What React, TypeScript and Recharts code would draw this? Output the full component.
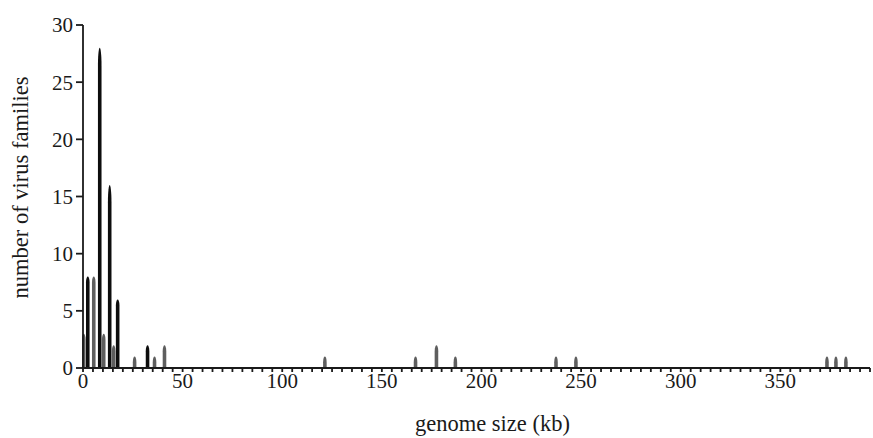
import React from 'react';
import { ComposedChart, Bar, XAxis, YAxis, Label } from 'recharts';

// genome size (kb) where each bar sits
const SIZES = [0.5, 2.5, 5.5, 8.5, 10.5, 13.5, 15.5, 17.5, 26, 32.5, 36, 41, 121.5, 167, 177.5, 187, 237.5, 247.5, 373.5, 378, 383];
// number of virus families per bar
const COUNTS = [3, 8, 8, 28, 3, 16, 2, 6, 1, 2, 1, 2, 1, 1, 2, 1, 1, 1, 1, 1, 1];
// printed tone of each bar: d = solid black, g = grey hatched
const TONES = ['g', 'd', 'g', 'd', 'g', 'd', 'g', 'd', 'g', 'd', 'g', 'g', 'g', 'g', 'g', 'g', 'g', 'g', 'g', 'g', 'g'];

const Y_TICKS = [0, 5, 10, 15, 20, 25, 30];
const X_LABELS = [0, 50, 100, 150, 200, 250, 300, 350];
const X_MINOR_STEP = 5;
const X_MAX = 395;

const FONT = '"Liberation Serif", "Times New Roman", serif';
const INK = '#1a1a1a';

const data = SIZES.map((x, i) => ({ x, n: COUNTS[i], tone: TONES[i] }));
const xTicks = Array.from({ length: X_MAX / X_MINOR_STEP + 1 }, (_, i) => i * X_MINOR_STEP);

// narrow bar with a rounded, slightly pointed top like the printed histogram
function Spike(props: any) {
  const { x, y, width, height, payload } = props;
  if (!height || height <= 0) return null;
  const w = width;
  const cap = Math.min(height * 0.5, height > 100 ? 18 : 6);
  const bottom = y + height;
  const cx = x + w / 2;
  const d = `M${x},${bottom} L${x},${y + cap} C${x},${y + cap * 0.3} ${cx - w * 0.2},${y} ${cx},${y} C${cx + w * 0.2},${y} ${x + w},${y + cap * 0.3} ${x + w},${y + cap} L${x + w},${bottom} Z`;
  return <path d={d} fill={payload.tone === 'd' ? '#0d0d0d' : '#5e5e5e'} />;
}

export default function App() {
  return (
    <div style={{ position: 'absolute', left: 0, top: 0, background: '#fff' }}>
      <ComposedChart width={873} height={438} data={data} margin={{ top: 25, right: 3, left: 0, bottom: 0 }}>
        <XAxis
          dataKey="x"
          type="number"
          domain={[0, X_MAX]}
          ticks={xTicks}
          interval={0}
          tickFormatter={(v: number) => (X_LABELS.includes(v) ? String(v) : '')}
          height={70}
          tickSize={4}
          tickMargin={1}
          stroke={INK}
          strokeWidth={1.8}
          tick={{ fill: INK, fontSize: 21, fontFamily: FONT }}
        >
          <Label
            value="genome size (kb)"
            position="insideBottom"
            offset={7}
            dx={16}
            style={{ fill: INK, fontSize: 22.5, fontFamily: FONT }}
          />
        </XAxis>
        <YAxis
          type="number"
          domain={[0, 30]}
          ticks={Y_TICKS}
          interval={0}
          width={83}
          tickSize={7}
          tickMargin={3}
          stroke={INK}
          strokeWidth={1.8}
          tick={{ fill: INK, fontSize: 21, fontFamily: FONT }}
        >
          <Label
            content={(p: any) => {
              const vb = p.viewBox || { x: 0, y: 25, width: 83, height: 343 };
              const cy = vb.y + vb.height / 2 - 9;
              return (
                <text
                  x={20}
                  y={cy}
                  transform={`rotate(-90, 20, ${cy})`}
                  textAnchor="middle"
                  dominantBaseline="central"
                  style={{ fill: INK, fontSize: 22.5, fontFamily: FONT }}
                >
                  number of virus families
                </text>
              );
            }}
          />
        </YAxis>
        <Bar dataKey="n" barSize={5} shape={Spike} isAnimationActive={false} />
      </ComposedChart>
    </div>
  );
}
